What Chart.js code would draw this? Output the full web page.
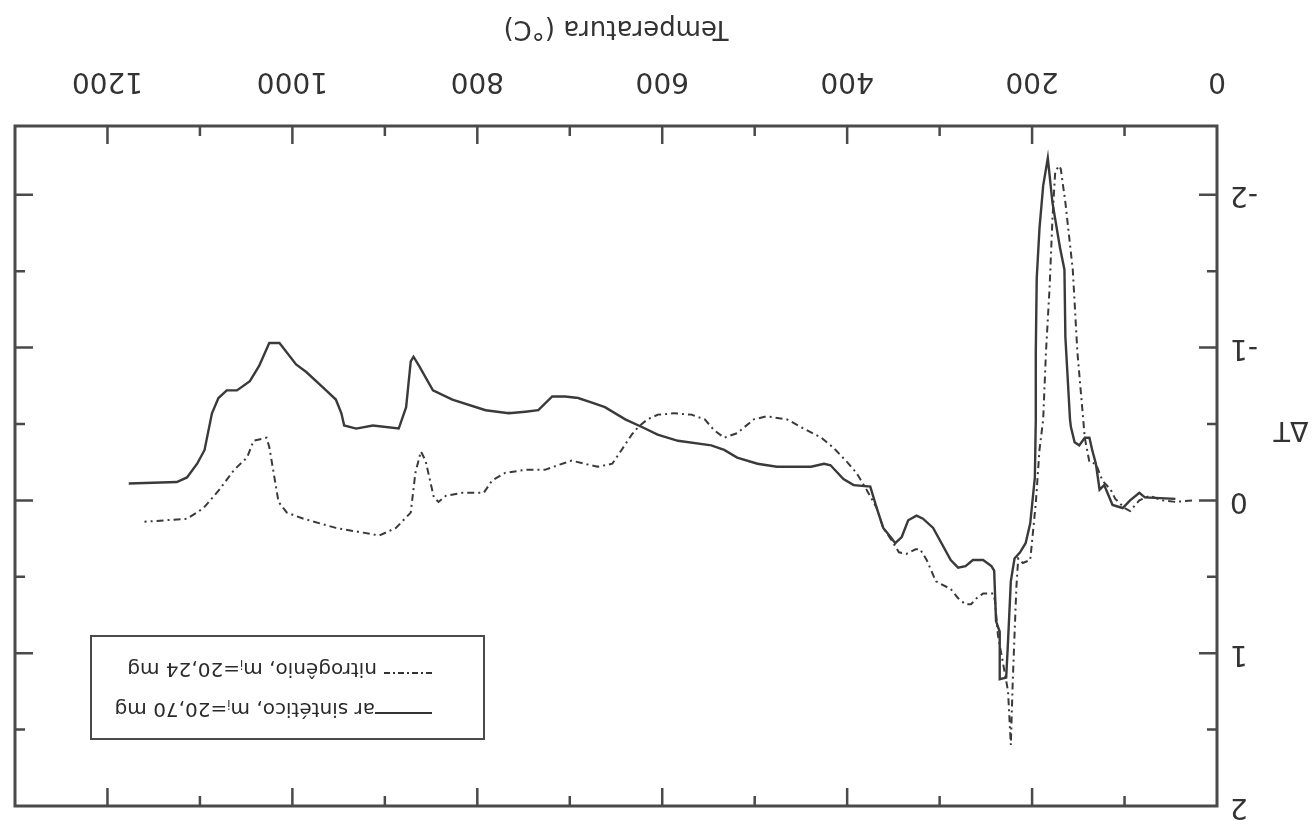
<!DOCTYPE html>
<html lang="pt">
<head>
<meta charset="utf-8">
<title>ΔT x Temperatura</title>
<script src="https://cdn.jsdelivr.net/npm/chart.js@4.4.1/dist/chart.umd.min.js"></script>
<style>
    html, body { margin: 0; padding: 0; background: #fff; overflow: hidden; }
    /* a figura original foi digitalizada de cabeça para baixo */
    #wrap { position: relative; width: 1316px; height: 825px; transform: rotate(180deg); }
    #chart { position: absolute; left: 0; top: 0; }
    #dtLabel {
        position: absolute; left: 0; top: 378px; width: 50px; line-height: 28px;
        text-align: center; font: 27px "DejaVu Sans", sans-serif; color: #333;
    }
    #legend {
        position: absolute; left: 831px; top: 85px; width: 395px; height: 105px;
        box-sizing: border-box; border: 2.5px solid #4a4a4a;
        font: 20px "DejaVu Sans", sans-serif; color: #2a2a2a;
    }
    #legend .row { position: absolute; line-height: 22px; white-space: nowrap; }
    #legend .key { position: absolute; height: 2px; }
    #legend .solid { background: #333; }
    #legend .dashdot {
        background: repeating-linear-gradient(to right, #333 0 6px, transparent 6px 9px, #333 9px 11px, transparent 11px 14px);
    }
    #legend sub { font-size: 12px; vertical-align: -3px; }
</style>
</head>
<body>
<div id="wrap">
    <canvas id="chart" width="1316" height="825"></canvas>
    <div id="dtLabel">ΔT</div>
    <div id="legend">
        <div class="key solid" style="left:51px; top:24px; width:57px;"></div>
        <div class="row" style="left:108px; top:17px;">ar sintético, m<sub>i</sub>=20,70 mg</div>
        <div class="key dashdot" style="left:51px; top:64px; width:49px;"></div>
        <div class="row" style="left:106px; top:57px;">nitrogênio, m<sub>i</sub>=20,24 mg</div>
    </div>
</div>
<script>
// ar sintético (linha cheia)
const arTemp = [45, 78, 84, 94, 102, 113, 122, 127, 131, 135, 138, 143, 149, 154, 158, 159, 164, 165, 170, 178,
    183, 188, 192, 195, 196, 196, 197, 202, 207, 213, 219, 223, 226, 228, 235, 235, 239, 241, 244, 253,
    264, 272, 280, 288, 307, 318, 325, 334, 341, 348, 353, 361, 368, 375, 393, 404, 418, 425, 439, 476,
    497, 519, 533, 547, 583, 605, 622, 640, 662, 676, 691, 705, 719, 734, 748, 766, 791, 827, 848, 863,
    869, 872, 877, 885, 913, 931, 944, 947, 953, 967, 985, 996, 1014, 1025, 1036, 1046, 1060, 1071, 1080, 1087,
    1095, 1103, 1114, 1125, 1177];
const arDelta = [-0.01, -0.02, -0.05, 0, 0.05, 0.03, -0.10, -0.07, -0.24, -0.33, -0.41, -0.41, -0.36, -0.38, -0.48, -0.53, -1.07, -1.51, -1.66, -1.95,
    -2.24, -2.06, -1.78, -1.45, -0.97, -0.53, -0.15, 0.15, 0.28, 0.34, 0.38, 0.53, 0.92, 1.16, 1.17, 0.86, 0.79, 0.46, 0.43, 0.39,
    0.39, 0.43, 0.44, 0.39, 0.18, 0.12, 0.10, 0.13, 0.24, 0.28, 0.24, 0.18, 0.05, -0.09, -0.10, -0.14, -0.23, -0.24, -0.22, -0.22,
    -0.24, -0.28, -0.33, -0.36, -0.39, -0.43, -0.48, -0.53, -0.61, -0.64, -0.67, -0.68, -0.68, -0.59, -0.58, -0.57, -0.59, -0.66, -0.72, -0.88,
    -0.94, -0.91, -0.61, -0.47, -0.49, -0.47, -0.49, -0.57, -0.66, -0.74, -0.84, -0.89, -1.03, -1.03, -0.88, -0.78, -0.72, -0.72, -0.67, -0.57,
    -0.33, -0.24, -0.15, -0.12, -0.11];

// nitrogênio (traço-ponto)
const n2Temp = [27, 45, 59, 73, 84, 94, 100, 110, 115, 124, 131, 138, 143, 145, 151, 156, 164, 169, 171, 175,
    178, 181, 185, 188, 192, 196, 202, 210, 215, 217, 219, 221, 223, 226, 228, 237, 240, 242, 253, 260,
    266, 272, 280, 288, 304, 314, 321, 326, 336, 344, 352, 361, 368, 379, 390, 400, 414, 428, 447, 465,
    487, 501, 519, 533, 544, 554, 568, 587, 605, 616, 626, 633, 644, 654, 670, 684, 698, 713, 727, 748,
    770, 784, 793, 816, 834, 842, 847, 856, 861, 867, 872, 888, 906, 953, 988, 1006, 1015, 1025, 1028, 1042,
    1049, 1063, 1079, 1096, 1114, 1160];
const n2Delta = [0, 0.01, 0, -0.03, 0, 0.07, 0.05, -0.01, -0.07, -0.13, -0.24, -0.25, -0.41, -0.55, -0.97, -1.51, -1.95, -2.17, -2.19, -2.15,
    -1.84, -1.40, -0.97, -0.53, -0.33, 0.02, 0.39, 0.41, 0.38, 0.57, 0.88, 1.20, 1.60, 1.25, 1.18, 0.88, 0.66, 0.61, 0.61, 0.64,
    0.68, 0.68, 0.64, 0.58, 0.53, 0.39, 0.32, 0.32, 0.35, 0.34, 0.26, 0.18, 0.05, -0.07, -0.18, -0.25, -0.34, -0.41, -0.47, -0.53,
    -0.55, -0.53, -0.44, -0.41, -0.46, -0.53, -0.56, -0.57, -0.56, -0.53, -0.48, -0.43, -0.33, -0.24, -0.22, -0.24, -0.26, -0.23, -0.20, -0.20,
    -0.18, -0.13, -0.05, -0.05, -0.03, 0.01, -0.02, -0.26, -0.32, -0.18, 0.08, 0.18, 0.23, 0.18, 0.12, 0.08, 0.01, -0.35, -0.41, -0.39,
    -0.28, -0.20, -0.07, 0.05, 0.12, 0.14];

// marcas dos eixos (as grandes levam rótulo)
const xTickValues = [0, 100, 200, 300, 400, 500, 600, 700, 800, 900, 1000, 1100, 1200, 1300];
const xLabelValues = [0, 200, 400, 600, 800, 1000, 1200];
const yTickValues = [-2, -1.5, -1, -0.5, 0, 0.5, 1, 1.5, 2];
const yLabelValues = [-2, -1, 0, 1, 2];

const inkColor = "#3a3a3a";
const axisColor = "#4a4a4a";
const fontFamily = "'DejaVu Sans', sans-serif";

function toPoints(xs, ys) {
    return xs.map((x, i) => ({ x: x, y: ys[i] }));
}

// moldura fechada com marcas para dentro nos quatro lados
const frameTicks = {
    id: "frameTicks",
    afterDatasetsDraw(chart) {
        const { ctx, chartArea: a, scales: { x, y } } = chart;
        ctx.save();
        ctx.strokeStyle = axisColor;
        ctx.lineWidth = 3;
        ctx.strokeRect(a.left, a.top, a.right - a.left, a.bottom - a.top);
        ctx.lineWidth = 2.5;
        ctx.beginPath();
        xTickValues.forEach((v) => {
            if (v <= x.min || v >= x.max) return;
            const px = x.getPixelForValue(v);
            const len = xLabelValues.includes(v) ? 18 : 10;
            ctx.moveTo(px, a.bottom);
            ctx.lineTo(px, a.bottom - len);
            ctx.moveTo(px, a.top);
            ctx.lineTo(px, a.top + len);
        });
        yTickValues.forEach((v) => {
            if (v <= y.min || v >= y.max) return;
            const py = y.getPixelForValue(v);
            const len = yLabelValues.includes(v) ? 18 : 10;
            ctx.moveTo(a.left, py);
            ctx.lineTo(a.left + len, py);
            ctx.moveTo(a.right, py);
            ctx.lineTo(a.right - len, py);
        });
        ctx.stroke();
        ctx.restore();
    },
};

const ctx = document.getElementById("chart").getContext("2d");
new Chart(ctx, {
    type: "line",
    data: {
        datasets: [
            {
                label: "ar sintético, mi=20,70 mg",
                data: toPoints(arTemp, arDelta),
                borderColor: inkColor,
                borderWidth: 2.4,
                pointRadius: 0,
                tension: 0,
            },
            {
                label: "nitrogênio, mi=20,24 mg",
                data: toPoints(n2Temp, n2Delta),
                borderColor: inkColor,
                borderWidth: 2,
                borderDash: [7, 4, 2, 4],
                pointRadius: 0,
                tension: 0,
            },
        ],
    },
    options: {
        responsive: false,
        animation: false,
        devicePixelRatio: 1,
        layout: { padding: { top: 19, right: 15, left: 0, bottom: 0 } },
        plugins: {
            legend: { display: false },
            tooltip: { enabled: false },
        },
        scales: {
            x: {
                type: "linear",
                min: 0,
                max: 1300,
                afterBuildTicks: (s) => { s.ticks = xTickValues.map((v) => ({ value: v })); },
                afterFit: (s) => {
                    s.height = 126;
                    s.paddingLeft = 0;
                    s.paddingRight = 0;
                },
                grid: { display: false, drawTicks: false },
                border: { display: false },
                ticks: {
                    autoSkip: false,
                    maxRotation: 0,
                    padding: 29,
                    color: "#333",
                    font: { family: fontFamily, size: 28 },
                    callback: (v) => (xLabelValues.includes(v) ? String(v) : ""),
                },
                title: {
                    display: true,
                    text: "Temperatura (°C)",
                    color: "#333",
                    font: { family: fontFamily, size: 26 },
                    padding: { top: 0, bottom: 12 },
                },
            },
            y: {
                min: -2.45,
                max: 2,
                afterBuildTicks: (s) => { s.ticks = yTickValues.map((v) => ({ value: v })); },
                afterFit: (s) => {
                    s.width = 99;
                    s.paddingTop = 0;
                    s.paddingBottom = 0;
                },
                grid: { display: false, drawTicks: false },
                border: { display: false },
                ticks: {
                    autoSkip: false,
                    padding: 13,
                    color: "#333",
                    font: { family: fontFamily, size: 28 },
                    callback: (v) => (yLabelValues.includes(v) ? String(v) : ""),
                },
            },
        },
    },
    plugins: [frameTicks],
});
</script>
</body>
</html>
